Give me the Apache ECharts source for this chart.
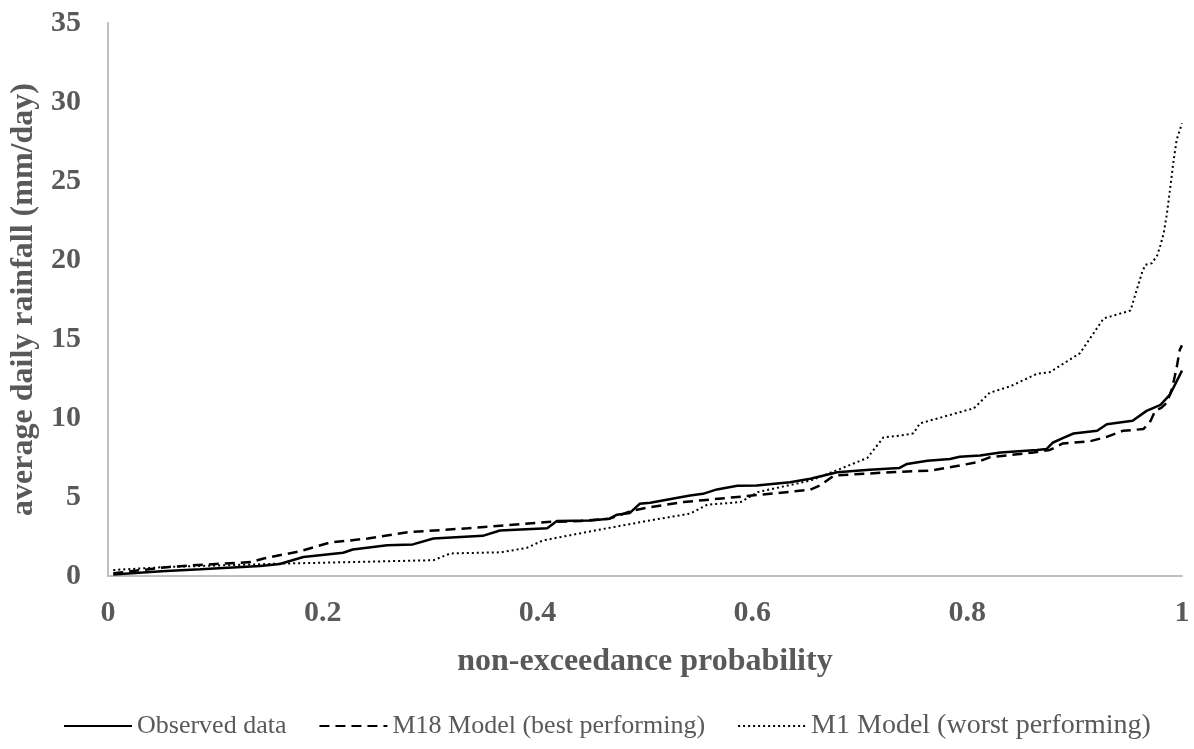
<!DOCTYPE html>
<html>
<head>
<meta charset="utf-8">
<script src="https://cdn.jsdelivr.net/npm/echarts@6/dist/echarts.min.js"></script>
<style>
  html, body { margin: 0; padding: 0; background: #fff; }
  #chart { width: 1194px; height: 749px; }
</style>
</head>
<body>
<div id="chart"></div>
<script>
// [probability, mm/day]
var observed = [
    [0.005, 0.1], [0.05, 0.3], [0.086, 0.42], [0.142, 0.63], [0.160, 0.76], [0.182, 1.2],
    [0.219, 1.47], [0.228, 1.68], [0.260, 1.95], [0.284, 2.0], [0.303, 2.37], [0.349, 2.54],
    [0.365, 2.88], [0.409, 3.02], [0.418, 3.48], [0.449, 3.52], [0.467, 3.63], [0.474, 3.88],
    [0.486, 3.99], [0.495, 4.57], [0.505, 4.64], [0.542, 5.1], [0.554, 5.2], [0.567, 5.48],
    [0.586, 5.71], [0.604, 5.73], [0.635, 5.94], [0.654, 6.15], [0.679, 6.57], [0.709, 6.72],
    [0.737, 6.84], [0.744, 7.09], [0.763, 7.3], [0.784, 7.41], [0.793, 7.55], [0.812, 7.62],
    [0.831, 7.82], [0.865, 7.98], [0.874, 8.04], [0.880, 8.45], [0.889, 8.73], [0.899, 9.02],
    [0.921, 9.19], [0.930, 9.61], [0.954, 9.82], [0.967, 10.45], [0.980, 10.83], [0.989, 11.5],
    [1.0, 13.0]
];
var m18 = [
    [0.005, 0.17], [0.055, 0.56], [0.077, 0.67], [0.133, 0.88], [0.145, 1.11], [0.179, 1.57],
    [0.207, 2.12], [0.242, 2.37], [0.279, 2.77], [0.335, 3.02], [0.409, 3.42], [0.44, 3.48],
    [0.467, 3.63], [0.489, 4.15], [0.505, 4.36], [0.536, 4.68], [0.592, 5.04], [0.610, 5.16],
    [0.654, 5.46], [0.663, 5.73], [0.676, 6.36], [0.729, 6.57], [0.766, 6.67], [0.793, 6.99],
    [0.809, 7.2], [0.821, 7.51], [0.862, 7.82], [0.877, 7.98], [0.889, 8.39], [0.914, 8.52],
    [0.930, 8.81], [0.945, 9.19], [0.964, 9.3], [0.970, 9.71], [0.975, 10.45], [0.981, 10.66],
    [0.986, 10.97], [0.991, 11.92], [0.995, 13.18], [0.998, 14.33], [1.0, 14.6]
];
var m1 = [
    [0.005, 0.38], [0.055, 0.57], [0.160, 0.78], [0.303, 1.0], [0.319, 1.43], [0.366, 1.5],
    [0.39, 1.78], [0.405, 2.25], [0.455, 2.9], [0.505, 3.52], [0.542, 3.95], [0.558, 4.51],
    [0.589, 4.68], [0.605, 5.31], [0.654, 6.04], [0.670, 6.46], [0.707, 7.47], [0.722, 8.77],
    [0.737, 8.88], [0.750, 9.03], [0.756, 9.66], [0.800, 10.5], [0.806, 10.6], [0.821, 11.6],
    [0.840, 12.0], [0.865, 12.8], [0.877, 12.9], [0.905, 14.1], [0.927, 16.3], [0.952, 16.8],
    [0.961, 18.8], [0.963, 19.26], [0.966, 19.7], [0.972, 19.8], [0.977, 20.3], [0.980, 20.95],
    [0.983, 21.7], [0.986, 22.96], [0.988, 24.0], [0.990, 25.1], [0.992, 26.2], [0.995, 27.6],
    [1.0, 28.65]
];
var seriesNames = ['Observed data', 'M18 Model (best performing)', 'M1 Model (worst performing)'];

var serif = "'Liberation Serif', 'Times New Roman', serif";
var grey = '#595959';
var axisGrey = '#bfbfbf';

var myChart = echarts.init(document.getElementById('chart'));
var option = {
    animation: false,
    backgroundColor: '#ffffff',
    grid: { left: 107, right: 12, top: 23, bottom: 173 },
    legend: {
        left: 58,
        top: 707,
        itemWidth: 68,
        itemHeight: 12,
        itemGap: 32,
        selectedMode: false,
        itemStyle: { opacity: 0 },
        textStyle: { fontFamily: serif, fontSize: 26, color: grey },
        data: [
            { name: seriesNames[0] },
            { name: seriesNames[1] },
            { name: seriesNames[2], textStyle: { fontSize: 28 } }
        ]
    },
    xAxis: {
        type: 'value',
        min: 0,
        max: 1,
        interval: 0.2,
        name: 'non-exceedance probability',
        nameLocation: 'middle',
        nameGap: 70,
        nameTextStyle: { fontFamily: serif, fontSize: 32, fontWeight: 'bold', color: grey },
        axisLine: { show: true, lineStyle: { color: axisGrey, width: 2 } },
        axisTick: { show: false },
        splitLine: { show: false },
        axisLabel: { margin: 22, fontFamily: serif, fontSize: 30, fontWeight: 'bold', color: grey }
    },
    yAxis: {
        type: 'value',
        min: 0,
        max: 35,
        interval: 5,
        name: 'average daily rainfall (mm/day)',
        nameLocation: 'middle',
        nameGap: 62,
        nameTextStyle: { fontFamily: serif, fontSize: 32, fontWeight: 'bold', color: grey },
        axisLine: { show: true, lineStyle: { color: axisGrey, width: 2 } },
        axisTick: { show: false },
        splitLine: { show: false },
        axisLabel: { margin: 27, fontFamily: serif, fontSize: 30, fontWeight: 'bold', color: grey }
    },
    series: [
        {
            name: seriesNames[0],
            type: 'line',
            data: observed,
            symbol: 'none',
            color: '#000',
            lineStyle: { color: '#000', width: 2.5, type: 'solid' }
        },
        {
            name: seriesNames[1],
            type: 'line',
            data: m18,
            symbol: 'none',
            color: '#000',
            lineStyle: { color: '#000', width: 2.5, type: [10, 6] }
        },
        {
            name: seriesNames[2],
            type: 'line',
            data: m1,
            symbol: 'none',
            color: '#000',
            lineStyle: { color: '#000', width: 2, type: [2, 3] }
        }
    ]
};
myChart.setOption(option);
</script>
</body>
</html>
